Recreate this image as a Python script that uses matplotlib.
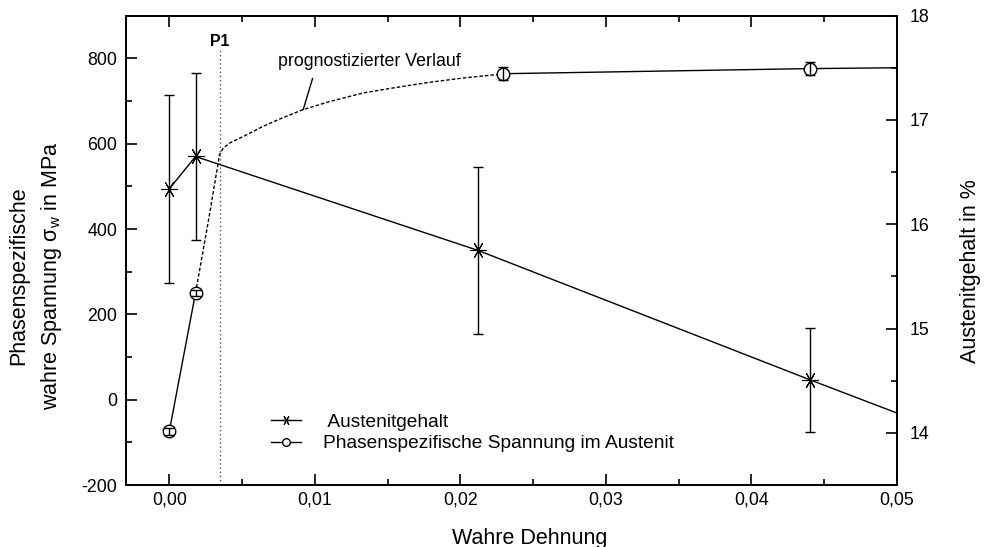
import matplotlib
matplotlib.use("Agg")
import matplotlib.pyplot as plt
from matplotlib.lines import Line2D
from matplotlib.ticker import MultipleLocator, FuncFormatter

plt.rcParams['font.family'] = ['Liberation Sans', 'DejaVu Sans']
plt.rcParams['mathtext.fontset'] = 'custom'
plt.rcParams['mathtext.rm'] = 'Liberation Sans'
plt.rcParams['mathtext.it'] = 'Liberation Sans:italic'
plt.rcParams['axes.unicode_minus'] = False

# Austenitgehalt (right axis, %)
aust_x = [0.0, 0.0018, 0.0212, 0.044]
aust_y = [16.34, 16.65, 15.75, 14.51]
aust_err = [0.9, 0.8, 0.8, 0.5]
aust_edge_x = 0.05
aust_edge_y = 14.19

# Phasenspezifische Spannung im Austenit (left axis, MPa)
stress_x = [0.0, 0.0018, 0.0229, 0.044]
stress_y = [-74, 250, 764, 776]
stress_err = [8, 8, 15, 15]
stress_edge_x = 0.05
stress_edge_y = 778

# prognostizierter Verlauf (dashed)
prog_x = [0.0018, 0.0027, 0.00345, 0.00371, 0.00417, 0.00532, 0.00646, 0.0076,
          0.0092, 0.01104, 0.01333, 0.01562, 0.0179, 0.0202, 0.0225, 0.0229]
prog_y = [250, 422, 574, 590, 602, 621, 641, 658,
          680, 699, 719, 732, 744, 754, 762, 764]

p1_x = 0.00348

fig = plt.figure(figsize=(9.84, 5.47), dpi=100)
ax = fig.add_axes([0.1277, 0.1133, 0.7839, 0.858])
ax2 = ax.twinx()

# left axis: stress
ax.plot(stress_x[:2], stress_y[:2], color='k', lw=1)
ax.plot(prog_x, prog_y, color='k', lw=1, dashes=(2.5, 1.5))
ax.plot(stress_x[2:] + [stress_edge_x], stress_y[2:] + [stress_edge_y], color='k', lw=1)
ax.plot(stress_x, stress_y, ls='none', marker='o', ms=9, mfc='white', mec='k', mew=1, zorder=3)
ax.errorbar(stress_x, stress_y, yerr=stress_err, fmt='none', ecolor='k',
            elinewidth=1, capsize=3.5, capthick=1, zorder=4)

ax.vlines(p1_x, -200, 825, colors='#555555', lw=1, linestyles=(0, (1, 2)))
ax.text(p1_x, 840, "P1", ha='center', va='center', fontsize=11.4, fontweight='bold')
ax.annotate("prognostizierter Verlauf", xy=(0.0092, 680), xytext=(0.01378, 792),
            ha='center', va='center', fontsize=12.8,
            arrowprops=dict(arrowstyle='-', color='k', lw=1, relpos=(0.2, 0.0),
                            shrinkA=4, shrinkB=0))

# right axis: austenite content
ax2.plot(aust_x + [aust_edge_x], aust_y + [aust_edge_y], color='k', lw=1)
ax2.plot(aust_x, aust_y, ls='none', marker=(6, 2, 90), ms=12, mec='k', mew=0.8)
ax2.errorbar(aust_x, aust_y, yerr=aust_err, fmt='none', ecolor='k',
             elinewidth=1, capsize=3.5, capthick=1)

ax.set_xlim(-0.003, 0.05)
ax.set_ylim(-200, 900)
ax2.set_ylim(13.5, 18)

ax.xaxis.set_major_locator(MultipleLocator(0.01))
ax.xaxis.set_minor_locator(MultipleLocator(0.005))
ax.yaxis.set_major_locator(MultipleLocator(200))
ax.yaxis.set_minor_locator(MultipleLocator(100))
ax2.yaxis.set_major_locator(MultipleLocator(1))
ax2.yaxis.set_minor_locator(MultipleLocator(0.5))
ax.xaxis.set_major_formatter(FuncFormatter(lambda v, p: f"{v:.2f}".replace('.', ',')))
ax.yaxis.set_major_formatter(FuncFormatter(lambda v, p: f"{v:.0f}"))
ax2.yaxis.set_major_formatter(FuncFormatter(lambda v, p: f"{v:.0f}"))

ax.tick_params(axis='x', which='both', direction='in', top=True, labelsize=12.8, pad=5)
ax.tick_params(axis='y', which='both', direction='in', labelsize=12.8, pad=6)
ax2.tick_params(axis='y', which='both', direction='in', labelsize=12.8, pad=9)
for a in (ax, ax2):
    a.tick_params(which='major', length=8, width=1.2)
    a.tick_params(which='minor', length=4.5, width=1.2)
    for s in a.spines.values():
        s.set_linewidth(1.3)

ax.set_xlabel("Wahre Dehnung", fontsize=15.5, va='center')
ax.xaxis.set_label_coords(0.524, -0.113)
ax.set_ylabel("Phasenspezifische\nwahre Spannung $\\mathrm{σ}_{\\mathrm{w}}$ in MPa", fontsize=15.5,
              linespacing=1.5, va='center')
ax.yaxis.set_label_coords(-0.116, 0.445)
ax2.set_ylabel("Austenitgehalt in %", fontsize=15.5, va='center')
ax2.yaxis.set_label_coords(1.095, 0.455)

handles = [
    Line2D([], [], color='k', lw=1, marker=(6, 2, 90), ms=7, mew=0.8),
    Line2D([], [], color='k', lw=1, marker='o', ms=5.5, mfc='white', mew=1),
]
ax2.legend(handles, [" Austenitgehalt", "Phasenspezifische Spannung im Austenit"],
           loc='center left', bbox_to_anchor=(261 / 984, 1 - 433 / 547),
           bbox_transform=fig.transFigure, frameon=False, fontsize=13.8,
           borderpad=0, handlelength=1.6, handletextpad=1.15, labelspacing=0.2)

fig.savefig("out.png", dpi=100)
